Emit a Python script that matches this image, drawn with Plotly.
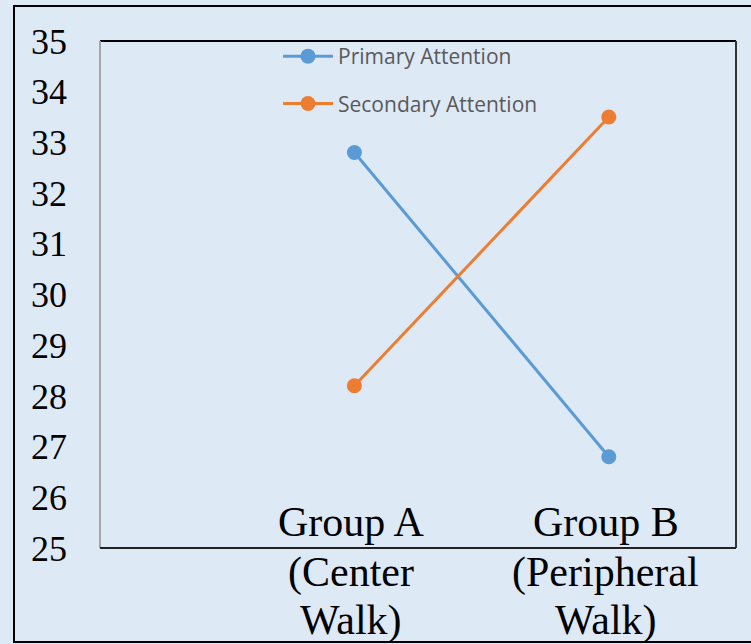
import plotly.graph_objects as go

cat_keys = ["Group A", "Group B"]
category_lines = [["Group A", "(Center", "Walk)"], ["Group B", "(Peripheral", "Walk)"]]
primary = [32.8, 26.8]
secondary = [28.2, 33.5]
y_ticks = list(range(25, 36))

BG = "#DEE9F6"
BLUE = "#5B9BD5"
ORANGE = "#ED7D31"

fig = go.Figure()
fig.add_trace(go.Scatter(x=cat_keys, y=primary, name="Primary Attention", mode="lines+markers",
                         line=dict(color=BLUE, width=3), marker=dict(size=15, color=BLUE),
                         legendgroup="p"))
fig.add_trace(go.Scatter(x=cat_keys, y=secondary, name="Secondary Attention", mode="lines+markers",
                         line=dict(color=ORANGE, width=3), marker=dict(size=15, color=ORANGE),
                         legendgroup="s"))

L, R, T, B = 100, 15, 41, 96
W, H = 751, 644
pw, ph = W - L - R, H - T - B

def px(x):
    return (x - L) / pw

def py(y):
    return (H - B - y) / ph

line_y = [522, 572, 620]
for k, lines in zip(cat_keys, category_lines):
    for txt, yy in zip(lines, line_y):
        fig.add_annotation(x=k, xref="x", y=py(yy), yref="paper", text=txt, showarrow=False,
                           yanchor="middle", xanchor="center", xshift=-3,
                           font=dict(family="Liberation Serif", size=42, color="black"))

# outer border
fig.add_shape(type="rect", xref="paper", yref="paper", x0=px(14), x1=px(760), y0=py(642), y1=py(6),
              line=dict(color="black", width=2), layer="below")
# plot area borders
fig.add_shape(type="line", xref="paper", yref="paper", x0=0, x1=1, y0=1, y1=1, line=dict(color="black", width=2))
fig.add_shape(type="line", xref="paper", yref="paper", x0=0, x1=0, y0=0, y1=1, line=dict(color="#A6A6A6", width=2))
fig.add_shape(type="line", xref="paper", yref="paper", x0=1, x1=1, y0=0, y1=1, line=dict(color="#333333", width=2))
fig.add_shape(type="line", xref="paper", yref="paper", x0=0, x1=1, y0=0, y1=0, line=dict(color="#222222", width=2))

fig.update_layout(
    width=W, height=H,
    margin=dict(l=L, r=R, t=T, b=B),
    paper_bgcolor=BG, plot_bgcolor=BG,
    showlegend=True,
    legend=dict(x=px(278), y=py(36), xanchor="left", yanchor="top", bgcolor="rgba(0,0,0,0)",
                font=dict(family="Open Sans", size=21, color="#595959"),
                traceorder="grouped", tracegroupgap=17, itemwidth=50),
    xaxis=dict(type="category", range=[-1, 1.5], showticklabels=False, showgrid=False,
               zeroline=False, showline=False, ticks=""),
    yaxis=dict(range=[25, 35], tickvals=y_ticks, showgrid=False, zeroline=False, showline=False,
               ticks="", ticklabelstandoff=32,
               tickfont=dict(family="Liberation Serif", size=36, color="black")),
)

fig.write_html("out.html", config={"displayModeBar": False},
               post_script="document.body.style.margin='0px';")
